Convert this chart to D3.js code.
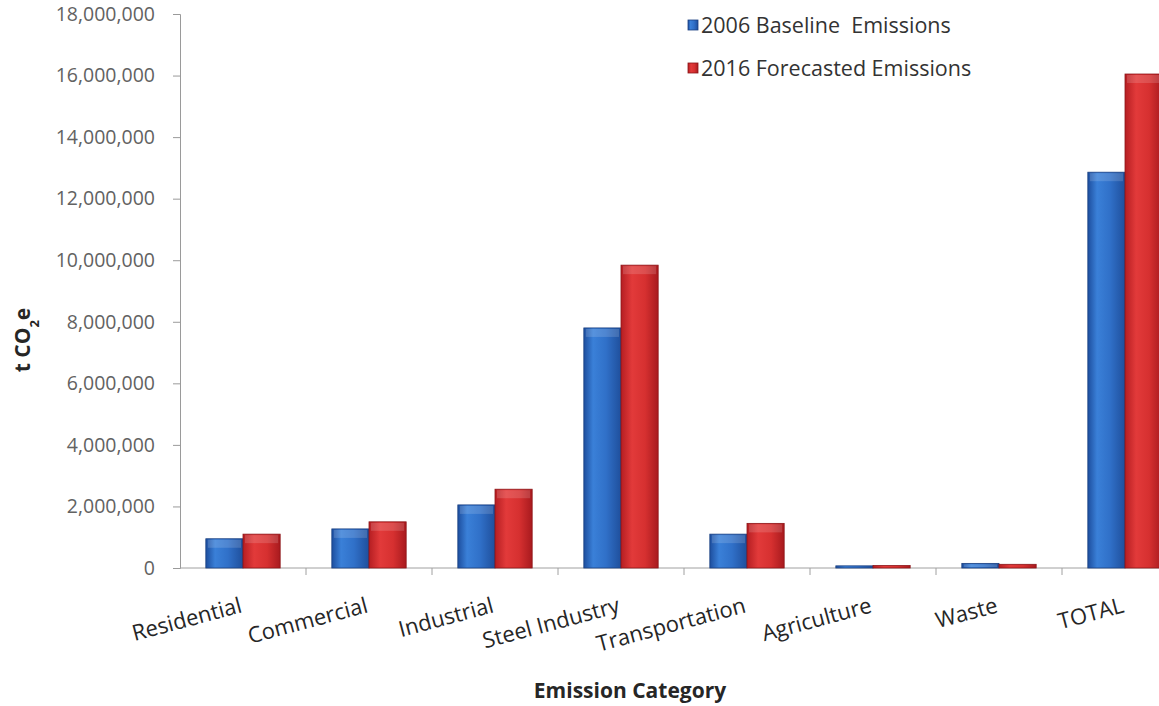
<!DOCTYPE html>
<html><head><meta charset="utf-8">
<script src="https://cdn.jsdelivr.net/npm/d3@7"></script>
<style>body{margin:0;background:#fff}svg{display:block}</style>
</head><body>
<svg id="c" width="1159" height="706"></svg>
<script>
const categories = ["Residential","Commercial","Industrial","Steel Industry","Transportation","Agriculture","Waste","TOTAL"];
const series = ["2006 Baseline  Emissions","2016 Forecasted Emissions"];
const baseline2006 = [950000,1270000,2050000,7800000,1100000,70000,150000,12860000];
const forecast2016 = [1100000,1500000,2560000,9840000,1450000,80000,120000,16050000];
const yTicks = [0,2000000,4000000,6000000,8000000,10000000,12000000,14000000,16000000,18000000];

const svg = d3.select("#c");
const m = {left:180, top:14, bottom:568};
const step = 126;
const x = d3.scaleBand().domain(categories).range([m.left, m.left + step*categories.length]).paddingInner(0.41).paddingOuter(0.205);
const xs = d3.scaleBand().domain([0,1]).range([0, x.bandwidth()]);
const y = d3.scaleLinear().domain([0,18000000]).range([m.bottom, m.top]);

const defs = svg.append("defs");
function grad(id, stops){
  const g = defs.append("linearGradient").attr("id",id).attr("x1","0").attr("x2","1").attr("y1","0").attr("y2","0");
  stops.forEach(s=>g.append("stop").attr("offset",s[0]).attr("stop-color",s[1]));
}
grad("gb",[[0,"#1d4e9e"],[0.25,"#3a80d8"],[0.6,"#3070c8"],[1,"#1f4f9c"]]);
grad("gr",[[0,"#b51e22"],[0.3,"#e23a3a"],[0.65,"#d63030"],[1,"#a81a1e"]]);
const fills = ["url(#gb)","url(#gr)"];
const strokes = ["#1a3f80","#8c1518"];

// axes
const yAxis = d3.axisLeft(y).tickValues(yTicks).tickFormat(d3.format(",")).tickSize(7).tickPadding(18);
const ya = svg.append("g").attr("transform",`translate(${m.left},0)`).call(yAxis);
ya.select(".domain").attr("stroke","#9a9a9a");
ya.selectAll(".tick line").attr("stroke","#9a9a9a");
ya.selectAll(".tick text").attr("fill","#626262").style("font-family","'Open Sans', sans-serif").style("font-size","19.5px");

// baseline with ticks between groups
svg.append("line").attr("x1",m.left).attr("x2",1159).attr("y1",m.bottom).attr("y2",m.bottom).attr("stroke","#a0a0a0");
categories.forEach((c,i)=>{
  const xx = m.left + step*(i+1);
  svg.append("line").attr("x1",xx).attr("x2",xx).attr("y1",m.bottom).attr("y2",m.bottom+7).attr("stroke","#a0a0a0");
});

// bars
const data = categories.map((c,i)=>({c, v:[baseline2006[i], forecast2016[i]]}));
const g = svg.append("g");
data.forEach(d=>{
  d.v.forEach((v,j)=>{
    const x0 = x(d.c)+xs(j);
    g.append("rect").attr("x",x0).attr("y",y(v)).attr("width",xs.bandwidth()).attr("height",Math.max(2,y(0)-y(v)))
      .attr("fill",fills[j]).attr("stroke",strokes[j]).attr("stroke-width",0.8);
    const h = Math.min(10, y(0)-y(v));
    if(h>4) g.append("rect").attr("x",x0+2).attr("y",y(v)+1).attr("width",xs.bandwidth()-4).attr("height",h-2)
      .attr("fill","#fff").attr("opacity",0.15);
  });
});

// x labels
svg.append("g").selectAll("text").data(categories).join("text")
  .attr("transform",d=>`translate(${x(d)+x.bandwidth()/2},${m.bottom+44}) rotate(-15)`)
  .attr("text-anchor","end").attr("fill","#262626")
  .style("font-family","'Open Sans', sans-serif").style("font-size","22px")
  .text(d=>d);

// titles
svg.append("text").attr("x",630).attr("y",698).attr("text-anchor","middle").attr("fill","#262626")
  .style("font-family","'Open Sans', sans-serif").style("font-size","21px").style("font-weight","bold").text("Emission Category");
const yt = svg.append("text").attr("transform","translate(30,340) rotate(-90)").attr("text-anchor","middle").attr("fill","#262626")
  .style("font-family","'Open Sans', sans-serif").style("font-size","21px").style("font-weight","bold");
yt.append("tspan").text("t CO");
yt.append("tspan").attr("baseline-shift","sub").style("font-size","13px").text("2");
yt.append("tspan").text("e");

// legend
const lg = svg.append("g");
series.forEach((s,i)=>{
  const yy = 26 + i*43;
  lg.append("rect").attr("x",688).attr("y",yy-6).attr("width",10).attr("height",10).attr("fill",fills[i]).attr("stroke",strokes[i]).attr("stroke-width",0.8);
  lg.append("text").attr("x",701).attr("y",yy+7).attr("fill","#333").style("white-space","pre")
    .style("font-family","'Open Sans', sans-serif").style("font-size","21.5px").text(s);
});
</script>
</body></html>
